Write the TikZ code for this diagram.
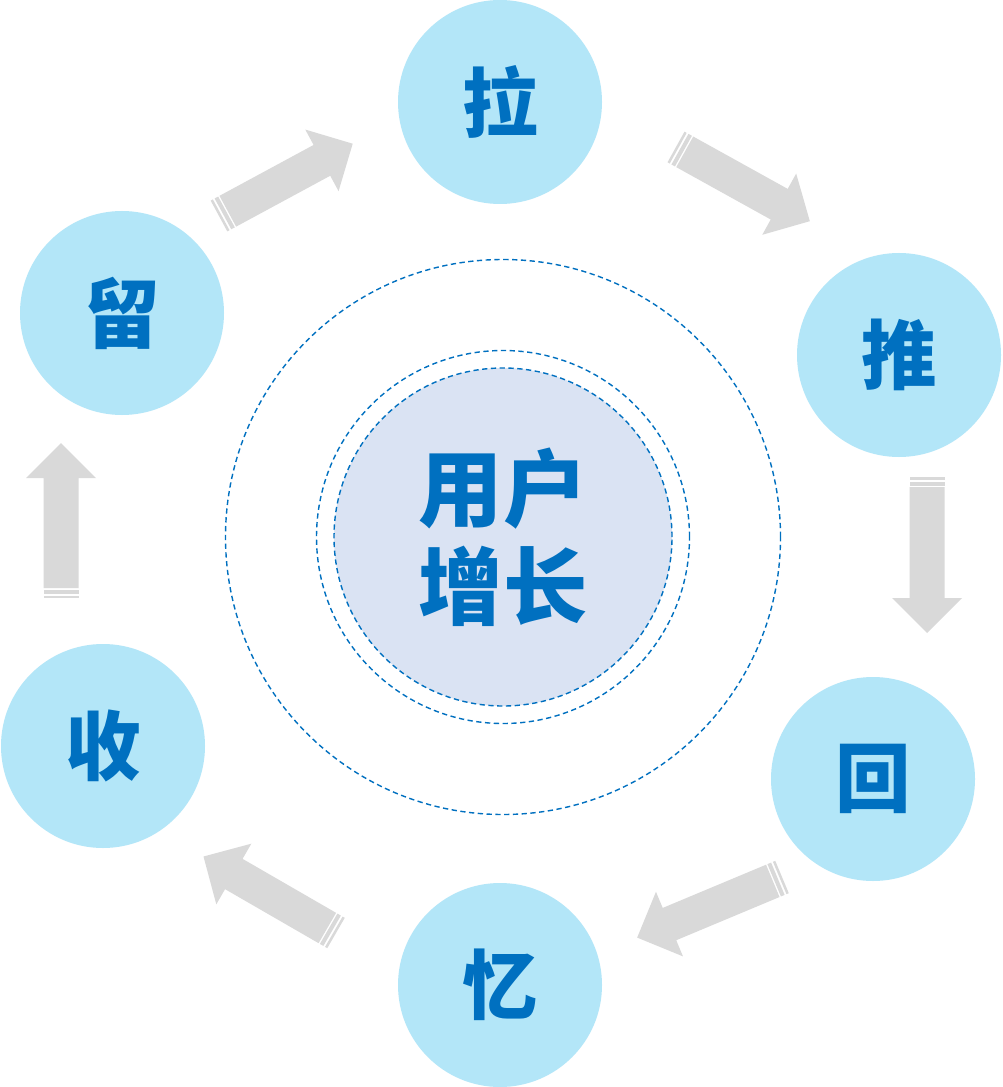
\documentclass[tikz,border=0pt]{standalone}
\usepackage{fontspec}
\newfontfamily\cjk{Noto Sans CJK SC}
\definecolor{bubble}{HTML}{B3E6F8}
\definecolor{core}{HTML}{DAE3F3}
\definecolor{ink}{HTML}{0070C0}
\definecolor{arrowgray}{HTML}{D9D9D9}
\tikzset{
  stage/.style={circle,fill=bubble,minimum size=204*0.02cm,inner sep=0pt,
    text=ink,font=\cjk\bfseries\fontsize{43}{50}\selectfont},
  ring/.style={circle,draw=ink,line width=0.8pt,dash pattern=on 3pt off 2pt,inner sep=0pt},
  pics/barrow/.style={code={
    \fill[arrowgray] (0,-17.5) rectangle (2.5,17.5);
    \fill[arrowgray] (4.5,-17.5) rectangle (8.5,17.5);
    \fill[arrowgray] (10,-17.5) -- (#1-35,-17.5) -- (#1-35,-35) -- (#1,0)
       -- (#1-35,35) -- (#1-35,17.5) -- (10,17.5) -- cycle;
  }}
}
\begin{document}
\begin{tikzpicture}[x=0.02cm,y=-0.02cm]
\useasboundingbox (0,0) rectangle (1002,1087);
\fill[white] (0,0) rectangle (1002,1087);
% rings
\node[ring,minimum size=555*0.02cm] (outer) at (503,537) {};
\node[ring,minimum size=373*0.02cm] (middle) at (503,537) {};
\node[ring,fill=core,minimum size=338*0.02cm,text=ink,align=center,
  font=\cjk\bfseries\fontsize{48}{56}\selectfont] (center) at (503,537) {用户\\增长};
% stages
\node[stage] (la) at (500,102) {拉};
\node[stage] (tui) at (899,355) {推};
\node[stage] (hui) at (873,779) {回};
\node[stage] (yi) at (500,985) {忆};
\node[stage] (shou) at (103,746) {收};
\node[stage] (liu) at (122,313) {留};
% block arrows
\coordinate (a1) at (219,216);
\coordinate (a2) at (676,147);
\coordinate (a3) at (927,477);
\coordinate (a4) at (782,877);
\coordinate (a5) at (336,933);
\coordinate (a6) at (61,598);
\pic[rotate=28.4] at (a1) {barrow=152};
\pic[rotate=-29] at (a2) {barrow=153};
\pic[rotate=-90] at (a3) {barrow=156};
\pic[rotate=202.7] at (a4) {barrow=157};
\pic[rotate=150] at (a5) {barrow=153};
\pic[rotate=90] at (a6) {barrow=155};
\end{tikzpicture}
\end{document}
